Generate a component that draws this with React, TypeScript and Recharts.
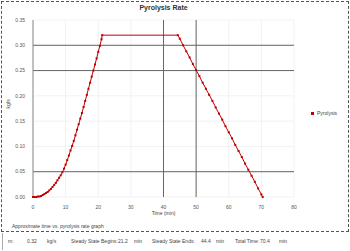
import { LineChart, Line, XAxis, YAxis, CartesianGrid, ReferenceLine } from 'recharts'

// time in minutes
const times = [
  0, 0.5, 1, 1.5, 2, 2.5, 3, 3.5, 4, 4.5, 5, 5.5, 6, 6.5, 7, 7.5, 8, 8.5, 9, 9.5,
  10, 10.5, 11, 11.5, 12, 12.5, 13, 13.5, 14, 14.5, 15, 15.5, 16, 16.5, 17, 17.5,
  18, 18.5, 19, 19.5, 20, 20.5, 21, 21.2,
  44.4, 45, 46, 47, 48, 49, 50, 51, 52, 53, 54, 55, 56, 57, 58, 59, 60, 61, 62,
  63, 64, 65, 66, 67, 68, 69, 70, 70.4,
]

// pyrolysis rate in kg/s
const rates = [
  0, 0, 0, 0.001, 0.001, 0.002, 0.004, 0.006, 0.008, 0.01, 0.013, 0.016, 0.02,
  0.024, 0.028, 0.033, 0.038, 0.043, 0.049, 0.056, 0.064, 0.073, 0.082, 0.092,
  0.101, 0.111, 0.122, 0.133, 0.144, 0.155, 0.166, 0.178, 0.19, 0.202, 0.214,
  0.226, 0.238, 0.25, 0.262, 0.274, 0.287, 0.299, 0.312, 0.32,
  0.32, 0.313, 0.3, 0.288, 0.276, 0.263, 0.251, 0.239, 0.226, 0.214, 0.202, 0.19,
  0.177, 0.165, 0.153, 0.14, 0.128, 0.116, 0.103, 0.091, 0.079, 0.066, 0.054,
  0.042, 0.03, 0.017, 0.005, 0,
]

const xTicks = [0, 10, 20, 30, 40, 50, 60, 70, 80]
const yTicks = [0, 0.05, 0.1, 0.15, 0.2, 0.25, 0.3, 0.35]
const darkX = [40, 50]
const darkY = [0.05, 0.25, 0.3]

const footer = [
  { text: 'm:', x: 7 },
  { text: '0.32', x: 26 },
  { text: 'kg/s', x: 46 },
  { text: 'Steady State Begins:', x: 70 },
  { text: '21.2', x: 117 },
  { text: 'min', x: 133 },
  { text: 'Steady State Ends:', x: 151 },
  { text: '44.4', x: 200 },
  { text: 'min', x: 215 },
  { text: 'Total Time:', x: 234 },
  { text: '70.4', x: 259 },
  { text: 'min', x: 278 },
]

const data = times.map((t, i) => ({ time: t, rate: rates[i] }))

const font = '"Liberation Sans", Arial, sans-serif'
const red = '#c00000'

const SquareDot = (props: any) => {
  const { cx, cy } = props
  if (cx == null || cy == null) return null
  return <rect x={cx - 1} y={cy - 1} width={2} height={2} fill={red} />
}

export default function App() {
  return (
    <div style={{ position: 'absolute', left: 0, top: 0, width: 350, height: 251, background: '#fff', fontFamily: font }}>
      <div style={{ position: 'absolute', left: 1, top: 1, width: 346, height: 229, border: '1px dashed #555' }} />
      <div style={{ position: 'absolute', left: 0, top: 4, width: 327, textAlign: 'center', fontSize: 7, fontWeight: 'bold', color: '#333' }}>
        Pyrolysis Rate
      </div>
      <LineChart width={350} height={233} data={data} margin={{ top: 20, right: 56, bottom: 0, left: 0 }} style={{ position: 'absolute', left: 0, top: 0 }}>
        <CartesianGrid stroke="#f2f2f2" vertical horizontal />
        <XAxis
          type="number"
          dataKey="time"
          domain={[0, 80]}
          ticks={xTicks}
          height={36}
          axisLine={false}
          tickLine={false}
          tick={{ fontSize: 5, fill: '#555', fontFamily: font }}
          tickMargin={2}
          label={{ value: 'Time (min)', position: 'insideBottom', offset: 18, fontSize: 5, fill: '#444', fontFamily: font }}
        />
        <YAxis
          type="number"
          domain={[0, 0.35]}
          ticks={yTicks}
          width={33}
          axisLine={{ stroke: '#888' }}
          tickLine={false}
          tickFormatter={(v: number) => v.toFixed(2)}
          tick={{ fontSize: 5, fill: '#555', fontFamily: font }}
          label={{ value: 'kg/s', angle: -90, position: 'insideLeft', offset: 8, fontSize: 5, fill: '#444', fontFamily: font }}
        />
        {darkX.map((x) => (
          <ReferenceLine key={'x' + x} x={x} stroke="#666" strokeWidth={1} />
        ))}
        {darkY.map((y) => (
          <ReferenceLine key={'y' + y} y={y} stroke="#666" strokeWidth={1} />
        ))}
        <Line
          type="linear"
          dataKey="rate"
          stroke={red}
          strokeWidth={1}
          dot={<SquareDot />}
          isAnimationActive={false}
        />
      </LineChart>
      <div style={{ position: 'absolute', left: 311, top: 110, display: 'flex', alignItems: 'center', fontSize: 5, color: '#444' }}>
        <span style={{ display: 'inline-block', width: 3, height: 3, background: red, marginRight: 3 }} />
        Pyrolysis
      </div>
      <div style={{ position: 'absolute', left: 12, top: 223, fontSize: 5, color: '#444' }}>
        Approximate time vs. pyrolysis rate graph
      </div>
      <div style={{ position: 'absolute', left: 2, top: 233, width: 347, height: 17, borderLeft: '1px solid #aaa' }}>
        {footer.map((f, i) => (
          <span key={i} style={{ position: 'absolute', left: f.x - 2, top: 5, fontSize: 5, color: '#444', whiteSpace: 'nowrap' }}>
            {f.text}
          </span>
        ))}
      </div>
    </div>
  )
}
